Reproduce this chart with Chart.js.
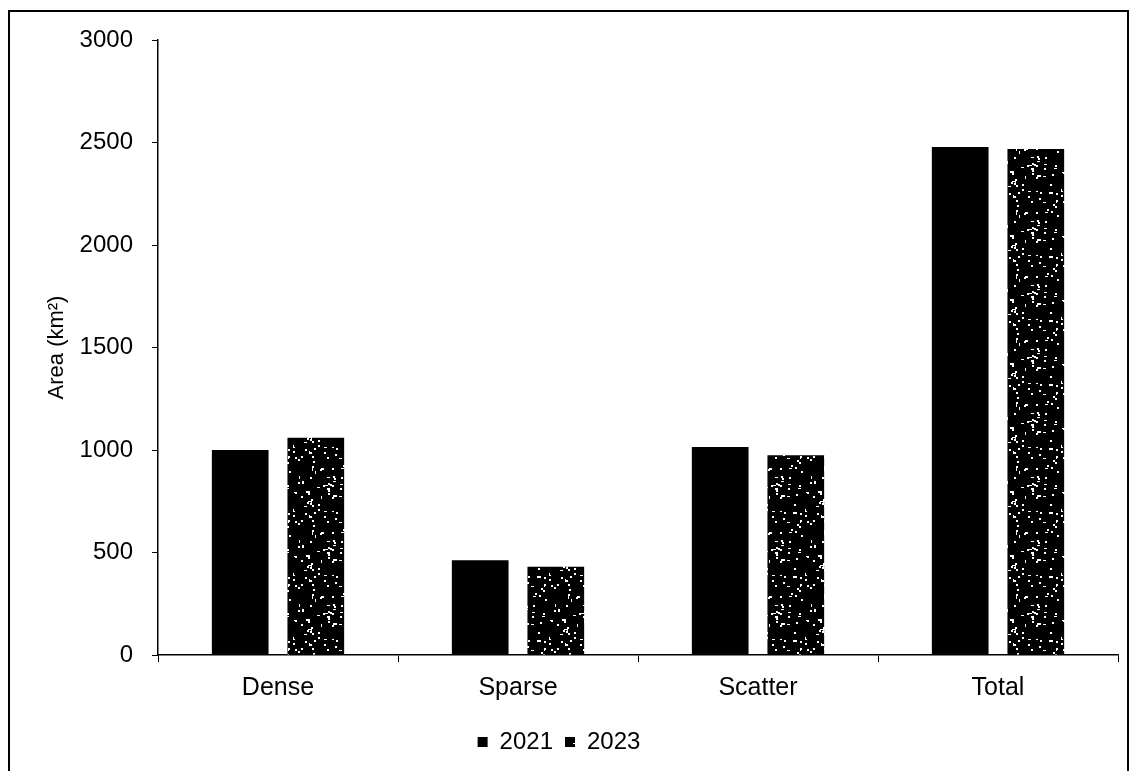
<!DOCTYPE html>
<html>
<head>
<meta charset="utf-8">
<script src="https://cdn.jsdelivr.net/npm/chart.js@4.4.1/dist/chart.umd.min.js"></script>
<style>
  body { margin: 0; background: #fff; }
  #frame { position: absolute; left: 8px; top: 10px; width: 1121px; height: 800px; border: 2px solid #000; box-sizing: border-box; }
  #wrap { position: absolute; left: 0; top: 0; width: 1137px; height: 771px; }
</style>
</head>
<body>
<div id="frame"></div>
<div id="wrap"><canvas id="chart"></canvas></div>
<script>
// data
const categories = ["Dense", "Sparse", "Scatter", "Total"];
const values2021 = [1000, 462, 1015, 2478];
const values2023 = [1060, 430, 975, 2468];
const yTicks = [0, 500, 1000, 1500, 2000, 2500, 3000];

// black fill with white speckles for the 2023 bars
function speckle() {
  const c = document.createElement("canvas");
  c.width = 64;
  c.height = 64;
  const g = c.getContext("2d");
  g.fillStyle = "#000";
  g.fillRect(0, 0, 64, 64);
  g.fillStyle = "#fff";
  let a = 20231;
  const rnd = () => {
    a |= 0; a = (a + 0x6d2b79f5) | 0;
    let t = Math.imul(a ^ (a >>> 15), 1 | a);
    t = (t + Math.imul(t ^ (t >>> 7), 61 | t)) ^ t;
    return ((t ^ (t >>> 14)) >>> 0) / 4294967296;
  };
  for (let i = 0; i < 85; i++) {
    const x = Math.floor(rnd() * 64);
    const y = Math.floor(rnd() * 64);
    const k = rnd();
    if (k < 0.6) g.fillRect(x, y, 2, 2);
    else if (k < 0.8) g.fillRect(x, y, 1, 3);
    else g.fillRect(x, y, 3, 1);
  }
  return g.createPattern(c, "repeat");
}

const fam = "'Liberation Sans', Arial, sans-serif";

new Chart(document.getElementById("chart"), {
  type: "bar",
  data: {
    labels: categories,
    datasets: [
      { label: "2021", data: values2021, backgroundColor: "#000" },
      { label: "2023", data: values2023, backgroundColor: speckle() },
    ],
  },
  options: {
    responsive: true,
    maintainAspectRatio: false,
    animation: false,
    categoryPercentage: 0.63,
    barPercentage: 0.75,
    layout: { padding: { left: 0, right: 19, top: 40, bottom: 7 } },
    plugins: {
      tooltip: { enabled: false },
      legend: {
        position: "bottom",
        labels: {
          color: "#000",
          font: { family: fam, size: 24 },
          boxWidth: 10,
          boxHeight: 10,
          padding: 12,
        },
      },
    },
    scales: {
      y: {
        min: 0,
        max: 3000,
        afterBuildTicks: (s) => { s.ticks = yTicks.map((v) => ({ value: v })); },
        afterFit: (s) => { s.width = 158; },
        ticks: { color: "#000", font: { family: fam, size: 24 }, padding: 19, callback: (v) => String(v) },
        grid: { display: true, drawOnChartArea: false, drawTicks: true, tickLength: 6, color: "#000" },
        border: { color: "#000", width: 1.5 },
        title: {
          display: true,
          text: "Area (km²)",
          color: "#000",
          font: { family: fam, size: 22 },
          padding: { top: 44, bottom: 0 },
        },
      },
      x: {
        afterFit: (s) => { s.height = 63; },
        ticks: { color: "#000", font: { family: fam, size: 25 }, padding: 11 },
        grid: { display: true, drawOnChartArea: false, drawTicks: true, tickLength: 7, color: "#000" },
        border: { color: "#000", width: 1.5 },
      },
    },
  },
});
</script>
</body>
</html>
